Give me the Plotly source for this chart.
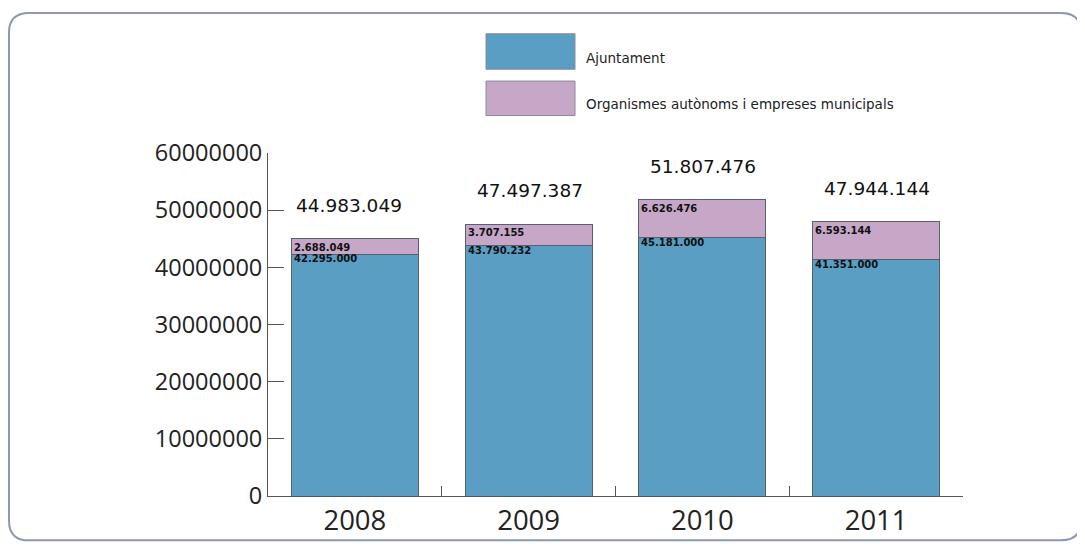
import plotly.graph_objects as go

years = ["2008", "2009", "2010", "2011"]
ajuntament = [42295000, 43790232, 45181000, 41351000]
organismes = [2688049, 3707155, 6626476, 6593144]
totals = [44983049, 47497387, 51807476, 47944144]
ajuntament_labels = ["42.295.000", "43.790.232", "45.181.000", "41.351.000"]
organismes_labels = ["2.688.049", "3.707.155", "6.626.476", "6.593.144"]
total_labels = ["44.983.049", "47.497.387", "51.807.476", "47.944.144"]
series_names = ["Ajuntament", "Organismes autònoms i empreses municipals"]

BLUE = "#5b9ec4"
PINK = "#c7a7c7"
EDGE = "#56606e"
FONT = "Open Sans"
SMALL = "DejaVu Sans"

OFF = 8  # page body margin
W, H = 1085 - OFF, 550 - OFF
L, R, T, B = 268 - OFF, 963 - OFF, 153 - OFF, 501 - OFF

fig = go.Figure()
fig.add_trace(go.Bar(x=years, y=ajuntament, name=series_names[0], width=0.73,
                     marker=dict(color=BLUE, line=dict(color=EDGE, width=1))))
fig.add_trace(go.Bar(x=years, y=organismes, name=series_names[1], width=0.73,
                     marker=dict(color=PINK, line=dict(color=EDGE, width=1))))

annotations = []
for i, yr in enumerate(years):
    annotations.append(dict(x=i, y=totals[i], text=total_labels[i], showarrow=False,
                            yanchor="bottom", yshift=21, xshift=(-6 if i == 0 else 1),
                            font=dict(family=SMALL, size=18.5, color="#111")))
    annotations.append(dict(x=i, y=totals[i], text="<b>" + organismes_labels[i] + "</b>",
                            showarrow=False, xanchor="left", yanchor="top",
                            xshift=-63, yshift=-1,
                            font=dict(family=SMALL, size=10, color="#111")))
    annotations.append(dict(x=i, y=ajuntament[i], text="<b>" + ajuntament_labels[i] + "</b>",
                            showarrow=False, xanchor="left", yanchor="top",
                            xshift=-63, yshift=3,
                            font=dict(family=SMALL, size=10, color="#111")))

# image-pixel -> paper helpers for decorations
def px(x):
    return (x - OFF - L) / (R - L)
def py(y):
    return (B - (y - OFF)) / (B - T)

shapes = []
x0, x1, y0, y1, r = 9, 1081, 11, 546, 20
path = (f"M {px(x0+r)},{py(y0)} L {px(x1-r)},{py(y0)} Q {px(x1)},{py(y0)} {px(x1)},{py(y0+r)} "
        f"L {px(x1)},{py(y1-r)} Q {px(x1)},{py(y1)} {px(x1-r)},{py(y1)} "
        f"L {px(x0+r)},{py(y1)} Q {px(x0)},{py(y1)} {px(x0)},{py(y1-r)} "
        f"L {px(x0)},{py(y0+r)} Q {px(x0)},{py(y0)} {px(x0+r)},{py(y0)} Z")
shapes.append(dict(type="path", xref="paper", yref="paper", path=path,
                   line=dict(color="#8f97b3", width=2), layer="below"))
for (ya, yb), col, name, ty in [((32, 68), BLUE, series_names[0], 57), ((80, 115), PINK, series_names[1], 103)]:
    shapes.append(dict(type="rect", xref="paper", yref="paper",
                       x0=px(486), x1=px(575), y0=py(yb), y1=py(ya),
                       fillcolor=col, line=dict(color="#8a8a9a", width=1)))
    annotations.append(dict(xref="paper", yref="paper", x=px(584), y=py(ty), text=name,
                            showarrow=False, xanchor="left", yanchor="middle",
                            font=dict(family=SMALL, size=13.5, color="#222")))

fig.update_layout(
    barmode="stack",
    width=W, height=H,
    margin=dict(l=L, r=W - R, t=T, b=H - B),
    paper_bgcolor="white", plot_bgcolor="white",
    showlegend=False,
    font=dict(family=FONT, color="#222"),
    annotations=annotations,
    shapes=shapes,
    xaxis=dict(type="category", range=[-0.5, 3.5], showline=True, linecolor="#555", linewidth=1,
               ticks="inside", tickson="boundaries", ticklen=10, tickcolor="#555",
               tickfont=dict(family=FONT, size=27.5, color="#222"), showgrid=False),
    yaxis=dict(range=[0, 60000000], dtick=10000000, tickformat="d", showline=True, linecolor="#555",
               linewidth=1, ticks="inside", ticklen=16, tickcolor="#555", showgrid=False,
               zeroline=False, tickfont=dict(family=FONT, size=23.5, color="#222")),
)

fig.write_html("out.html")
